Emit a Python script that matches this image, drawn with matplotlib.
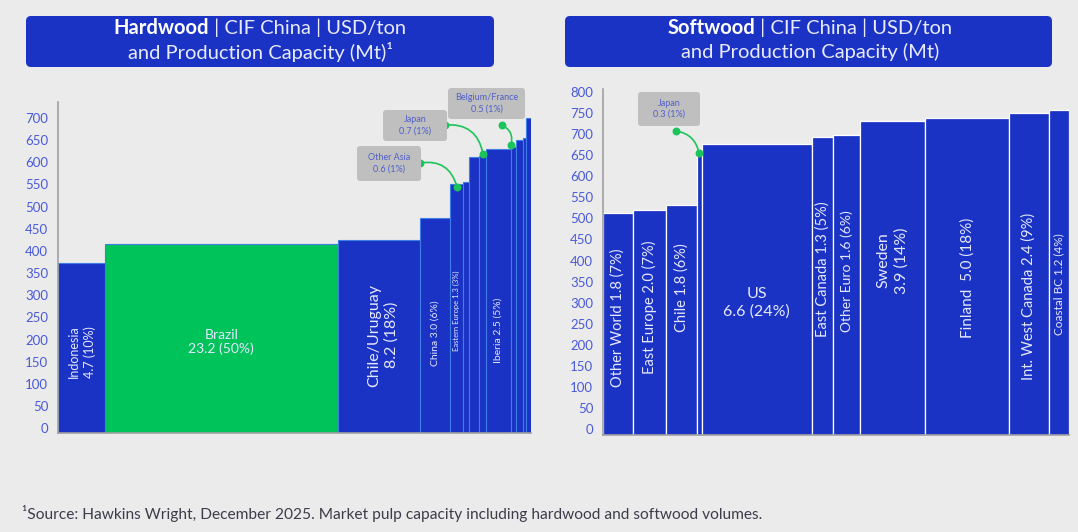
import matplotlib
matplotlib.use("Agg")
import matplotlib.pyplot as plt
from matplotlib.patches import FancyBboxPatch
from matplotlib.transforms import IdentityTransform
import numpy as np

plt.rcParams['font.family'] = ['Lato', 'DejaVu Sans']

# ---------------- data ----------------
hw_names = ["Indonesia", "Brazil", "Chile/Uruguay", "China", "Eastern Europe", "Other Asia",
            "Other", "Japan", "Iberia", "Belgium/France", "Other 2", "Other 3", "Other 4"]
hw_capacity = [4.7, 23.2, 8.2, 3.0, 1.3, 0.6, 1.0, 0.7, 2.5, 0.5, 0.7, 0.3, 0.5]
hw_price = [372, 415, 424, 474, 551, 555, 612, 614, 630, 635, 650, 655, 700]
hw_labels = ["Indonesia\n4.7 (10%)", "Brazil\n23.2 (50%)", "Chile/Uruguay\n8.2 (18%)",
             "China 3.0 (6%)", "Eastern Europe 1.3 (3%)", "", "", "", "Iberia 2.5 (5%)",
             "", "", "", ""]

sw_names = ["Other World", "East Europe", "Chile", "Japan", "US", "East Canada", "Other Euro",
            "Sweden", "Finland", "Int. West Canada", "Coastal BC"]
sw_capacity = [1.8, 2.0, 1.8, 0.3, 6.6, 1.3, 1.6, 3.9, 5.0, 2.4, 1.2]
sw_price = [512, 520, 532, 650, 676, 692, 697, 732, 739, 751, 757]
sw_labels = ["Other World 1.8 (7%)", "East Europe 2.0 (7%)", "Chile 1.8 (6%)", "",
             "US\n6.6 (24%)", "East Canada 1.3 (5%)", "Other Euro 1.6 (6%)",
             "Sweden\n3.9 (14%)", "Finland  5.0 (18%)", "Int. West Canada 2.4 (9%)",
             "Coastal BC 1.2 (4%)"]

hw_ticks = list(range(0, 701, 50))
sw_ticks = list(range(0, 801, 50))

hw_callouts = [("Other Asia\n0.6 (1%)", "Other Asia"), ("Japan\n0.7 (1%)", "Japan"),
               ("Belgium/France\n0.5 (1%)", "Belgium/France")]
sw_callouts = [("Japan\n0.3 (1%)", "Japan")]

# ---------------- style ----------------
BG = "#ebebeb"
BLUE = "#1a33c4"
GREEN = "#00c35a"
TICKC = "#4a5ad8"
TXT = "#e6e8ff"
GREY = "#bfbfbf"
CALLG = "#1cc35a"

W, H = 1078, 532
fig = plt.figure(figsize=(W / 100, H / 100), dpi=100, facecolor=BG)


def px_ax(x0, y0, x1, y1):
    return [x0 / W, 1 - y1 / H, (x1 - x0) / W, (y1 - y0) / H]


def style_axes(ax, ticks):
    ax.set_facecolor("none")
    for s in ["top", "right"]:
        ax.spines[s].set_visible(False)
    for s in ["left", "bottom"]:
        ax.spines[s].set_color("#a0a0a0")
        ax.spines[s].set_linewidth(1.2)
    ax.set_xticks([])
    ax.set_yticks(ticks)
    ax.tick_params(axis="y", length=0, pad=7, labelsize=9.5, labelcolor=TICKC)


# ---------------- hardwood ----------------
axL = fig.add_axes(px_ax(58, 102, 531, 433))
HW_BASE = -11
axL.set_ylim(HW_BASE, 736)
hw_left = np.concatenate([[0], np.cumsum(hw_capacity)[:-1]])
axL.set_xlim(0, sum(hw_capacity))
hw_colors = [GREEN if n == "Brazil" else BLUE for n in hw_names]
axL.bar(hw_left, np.array(hw_price) - HW_BASE, width=hw_capacity, bottom=HW_BASE,
        align="edge", color=hw_colors, edgecolor="#3f7ee6", linewidth=0.8, zorder=2)
style_axes(axL, hw_ticks)

hw_label_style = {
    "Indonesia": dict(rot=90, size=9, y=172, ls=1.35),
    "Brazil": dict(rot=0, size=10, y=194, ls=1.2),
    "Chile/Uruguay": dict(rot=90, size=11.5, y=210, ls=1.25),
    "China": dict(rot=90, size=7.5, y=214, ls=1.2),
    "Eastern Europe": dict(rot=90, size=5.5, y=266, ls=1.2),
    "Iberia": dict(rot=90, size=7.5, y=221, ls=1.2),
}
for n, l, c, lab in zip(hw_names, hw_left, hw_capacity, hw_labels):
    if lab and n in hw_label_style:
        st = hw_label_style[n]
        xoff = 0.4 if n == "Chile/Uruguay" else 0
        axL.text(l + c / 2 + xoff, st["y"], lab, rotation=st["rot"], fontsize=st["size"],
                 color=TXT, ha="center", va="center", linespacing=st["ls"], zorder=3)

# ---------------- softwood ----------------
axR = fig.add_axes(px_ax(603, 89, 1069, 435))
SW_BASE = -14
axR.set_ylim(SW_BASE, 807)
sw_left = np.concatenate([[0], np.cumsum(sw_capacity)[:-1]])
axR.set_xlim(0, sum(sw_capacity))
axR.bar(sw_left, np.array(sw_price) - SW_BASE, width=sw_capacity, bottom=SW_BASE,
        align="edge", color=BLUE, edgecolor="white", linewidth=0.9, zorder=2)
style_axes(axR, sw_ticks)

sw_label_style = {
    "Other World": dict(rot=90, size=10.5, y=265),
    "East Europe": dict(rot=90, size=10.5, y=290),
    "Chile": dict(rot=90, size=10.5, y=335),
    "US": dict(rot=0, size=11.5, y=300),
    "East Canada": dict(rot=90, size=10.5, y=380),
    "Other Euro": dict(rot=90, size=10, y=375),
    "Sweden": dict(rot=90, size=11.5, y=400),
    "Finland": dict(rot=90, size=11, y=360),
    "Int. West Canada": dict(rot=90, size=10.5, y=315),
    "Coastal BC": dict(rot=90, size=8.5, y=345),
}
for n, l, c, lab in zip(sw_names, sw_left, sw_capacity, sw_labels):
    if lab and n in sw_label_style:
        st = sw_label_style[n]
        axR.text(l + c / 2, st["y"], lab, rotation=st["rot"], fontsize=st["size"],
                 color=TXT, ha="center", va="center", linespacing=1.3, zorder=3)


# ---------------- callouts ----------------
def px_box(x0, y0, x1, y1, color, r=4):
    p = FancyBboxPatch((x0, H - y1), x1 - x0, y1 - y0,
                       boxstyle=f"round,pad=0,rounding_size={r}",
                       fc=color, ec="none", transform=IdentityTransform(), zorder=1)
    fig.patches.append(p)
    p.set_figure(fig)


def callout(ax, text, box_px, start_px, end_px, rad):
    x0, y0, x1, y1 = box_px
    px_box(x0, y0, x1, y1, GREY, r=3)
    fig.text((x0 + x1) / 2 / W, 1 - (y0 + y1) / 2 / H, text, ha="center", va="center",
             fontsize=6.5, color="#5060c8", linespacing=1.3, zorder=5)
    inv = ax.transData.inverted()
    s = inv.transform((start_px[0], H - start_px[1]))
    e = inv.transform((end_px[0], H - end_px[1]))
    ax.annotate("", xy=e, xytext=s,
                arrowprops=dict(arrowstyle="-", color=CALLG, lw=1.2,
                                connectionstyle=f"arc3,rad={rad}", shrinkA=0, shrinkB=0),
                annotation_clip=False, zorder=6)
    ax.scatter([s[0], e[0]], [s[1], e[1]], s=22, color=CALLG, zorder=7, clip_on=False)


fig.canvas.draw()
callout(axL, hw_callouts[0][0], (357, 146, 421, 181), (420, 163), (457, 187), -0.45)
callout(axL, hw_callouts[1][0], (383, 110, 447, 141), (445, 125), (483, 154), -0.45)
callout(axL, hw_callouts[2][0], (448, 88, 525, 119), (502, 125), (511, 145), -0.4)
callout(axR, sw_callouts[0][0], (638, 92, 700, 126), (676, 131), (699, 153), -0.35)

# ---------------- titles ----------------
px_box(26, 16, 494, 67, BLUE, r=5)
px_box(565, 16, 1052, 67, BLUE, r=5)

renderer = fig.canvas.get_renderer()


def title(cx, bold, rest, line2):
    fs = 14.5
    y1 = 1 - 28 / H
    y2 = 1 - 52 / H
    tb = fig.text(0, y1, bold, fontsize=fs, fontweight="bold", color="white",
                  ha="left", va="center")
    tr = fig.text(0, y1, rest, fontsize=fs, color="#e8eaff",
                  ha="left", va="center")
    wb = tb.get_window_extent(renderer).width
    wr = tr.get_window_extent(renderer).width
    start = cx - (wb + wr) / 2
    tb.set_x(start / W)
    tr.set_x((start + wb) / W)
    fig.text(cx / W, y2, line2, fontsize=fs, color="#e8eaff",
             ha="center", va="center")


title(260, "Hardwood", " | CIF China | USD/ton", "and Production Capacity (Mt)\u00b9")
title(810, "Softwood", " | CIF China | USD/ton", "and Production Capacity (Mt)")

fig.text(22 / W, 1 - 514 / H,
         "\u00b9Source: Hawkins Wright, December 2025. Market pulp capacity including hardwood and softwood volumes.",
         fontsize=11.2, color="#3c3c4c", ha="left", va="center")

fig.savefig("out.png", dpi=100, facecolor=BG)
